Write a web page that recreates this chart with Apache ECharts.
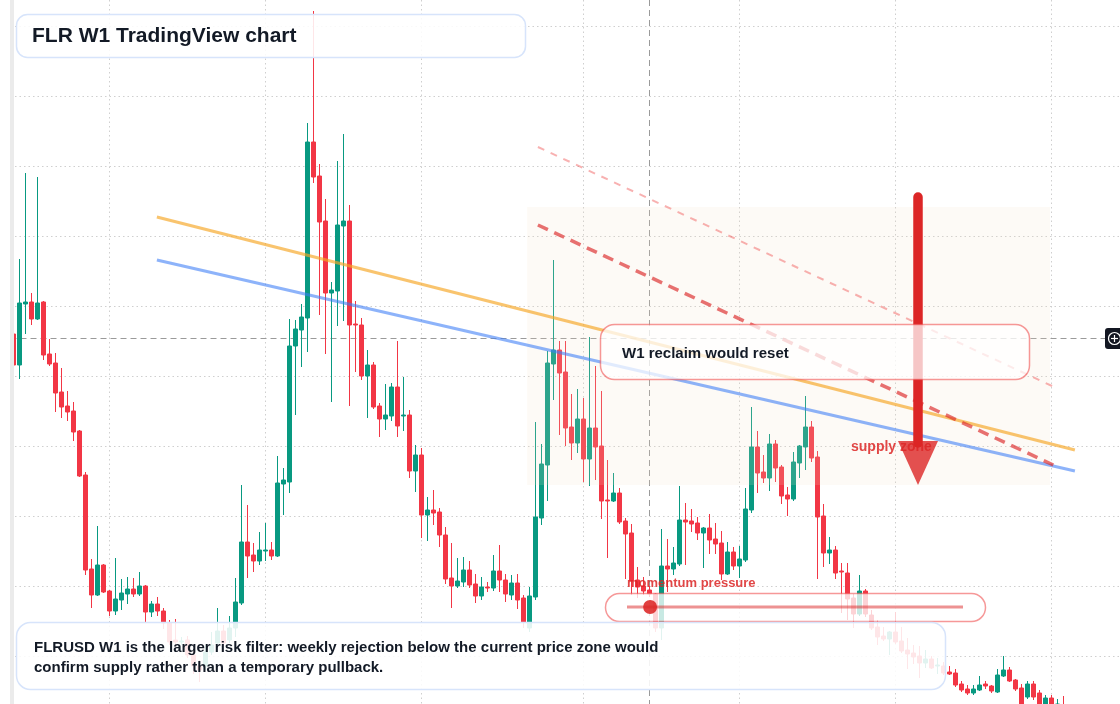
<!DOCTYPE html>
<html>
<head>
<meta charset="utf-8">
<title>FLR W1 TradingView chart</title>
<script src="https://cdn.jsdelivr.net/npm/echarts@6/dist/echarts.min.js"></script>
<style>
	html, body { margin: 0; padding: 0; background: #ffffff; }
	#chart { width: 1120px; height: 704px; }
</style>
</head>
<body>
<div id="chart"></div>
<script>
// FLRUSD weekly candles (price, USD)
const open = [
	0.0392,0.0361,0.0422,0.0424,0.0407,0.0424,0.0372,0.0363,0.0334,0.0320,0.0315,0.0295,0.0251,0.0157,0.0131,0.0161,
	0.0135,0.0115,0.0126,0.0132,0.0137,0.0132,0.0140,0.0114,0.0122,0.0115,0.0103,0.0086,0.0084,0.0086,0.0071,0.0060,
	0.0060,0.0074,0.0083,0.0095,0.0086,0.0098,0.0123,0.0184,0.0171,0.0165,0.0175,0.0176,0.0170,0.0242,0.0244,0.0380,
	0.0396,0.0408,0.0584,0.0550,0.0505,0.0433,0.0435,0.0500,0.0505,0.0402,0.0401,0.0350,0.0361,0.0320,0.0307,0.0310,
	0.0339,0.0310,0.0311,0.0255,0.0271,0.0211,0.0216,0.0214,0.0191,0.0148,0.0140,0.0144,0.0156,0.0142,0.0130,0.0139,
	0.0138,0.0155,0.0146,0.0131,0.0143,0.0128,0.0098,0.0129,0.0208,0.0261,0.0362,0.0376,0.0354,0.0299,0.0283,0.0307,
	0.0267,0.0298,0.0280,0.0226,0.0225,0.0233,0.0205,0.0193,0.0146,0.0140,0.0136,0.0132,0.0098,0.0160,0.0157,0.0162,
	0.0206,0.0205,0.0203,0.0193,0.0198,0.0187,0.0183,0.0152,0.0174,0.0160,0.0166,0.0216,0.0279,0.0254,0.0248,0.0282,
	0.0259,0.0231,0.0227,0.0263,0.0279,0.0299,0.0269,0.0210,0.0173,0.0176,0.0155,0.0153,0.0128,0.0112,0.0135,0.0111,
	0.0099,0.0090,0.0087,0.0094,0.0085,0.0076,0.0073,0.0070,0.0063,0.0067,0.0060,0.0060,0.0054,0.0053,0.0042,0.0037,
	0.0033,0.0036,0.0042,0.0040,0.0034,0.0050,0.0056,0.0046,0.0038,0.0029,0.0042,0.0033,0.0022,0.0028,0.0016,0.0020
];
const close = [
	0.0361,0.0423,0.0424,0.0407,0.0423,0.0371,0.0362,0.0333,0.0319,0.0314,0.0294,0.0250,0.0156,0.0131,0.0161,0.0134,
	0.0115,0.0127,0.0133,0.0137,0.0132,0.0140,0.0114,0.0122,0.0115,0.0103,0.0084,0.0084,0.0085,0.0071,0.0060,0.0056,
	0.0074,0.0081,0.0095,0.0083,0.0098,0.0124,0.0184,0.0170,0.0165,0.0176,0.0176,0.0170,0.0243,0.0246,0.0380,0.0397,
	0.0409,0.0584,0.0549,0.0504,0.0433,0.0436,0.0501,0.0505,0.0401,0.0401,0.0350,0.0361,0.0319,0.0307,0.0311,0.0339,
	0.0300,0.0311,0.0255,0.0271,0.0211,0.0216,0.0213,0.0191,0.0147,0.0140,0.0145,0.0156,0.0141,0.0130,0.0139,0.0138,
	0.0155,0.0146,0.0132,0.0143,0.0126,0.0104,0.0130,0.0209,0.0262,0.0363,0.0376,0.0353,0.0298,0.0283,0.0307,0.0267,
	0.0298,0.0279,0.0225,0.0225,0.0233,0.0204,0.0192,0.0145,0.0139,0.0135,0.0132,0.0098,0.0160,0.0157,0.0163,0.0206,
	0.0204,0.0202,0.0193,0.0198,0.0186,0.0182,0.0152,0.0174,0.0160,0.0167,0.0217,0.0279,0.0253,0.0248,0.0282,0.0258,
	0.0230,0.0227,0.0264,0.0280,0.0299,0.0268,0.0209,0.0173,0.0176,0.0153,0.0154,0.0127,0.0112,0.0135,0.0112,0.0098,
	0.0089,0.0087,0.0094,0.0084,0.0075,0.0072,0.0069,0.0063,0.0067,0.0058,0.0061,0.0053,0.0052,0.0041,0.0036,0.0033,
	0.0037,0.0041,0.0040,0.0035,0.0051,0.0056,0.0045,0.0037,0.0022,0.0042,0.0029,0.0022,0.0028,0.0022,0.0022,0.0014
];
const low = [
	0.0359,0.0347,0.0392,0.0401,0.0406,0.0366,0.0360,0.0314,0.0308,0.0305,0.0285,0.0249,0.0151,0.0118,0.0130,0.0133,
	0.0110,0.0111,0.0116,0.0122,0.0129,0.0130,0.0104,0.0109,0.0110,0.0097,0.0081,0.0078,0.0081,0.0068,0.0052,0.0044,
	0.0056,0.0071,0.0080,0.0079,0.0083,0.0089,0.0121,0.0148,0.0154,0.0161,0.0165,0.0166,0.0169,0.0211,0.0233,0.0311,
	0.0359,0.0374,0.0543,0.0411,0.0372,0.0324,0.0400,0.0405,0.0320,0.0354,0.0346,0.0308,0.0317,0.0289,0.0296,0.0305,
	0.0289,0.0295,0.0248,0.0234,0.0188,0.0185,0.0201,0.0179,0.0142,0.0118,0.0138,0.0139,0.0138,0.0123,0.0126,0.0134,
	0.0135,0.0134,0.0124,0.0126,0.0117,0.0098,0.0094,0.0126,0.0201,0.0225,0.0326,0.0291,0.0280,0.0266,0.0273,0.0244,
	0.0240,0.0246,0.0207,0.0168,0.0224,0.0202,0.0147,0.0131,0.0128,0.0131,0.0129,0.0094,0.0086,0.0134,0.0151,0.0160,
	0.0161,0.0194,0.0186,0.0158,0.0172,0.0172,0.0146,0.0151,0.0156,0.0148,0.0164,0.0213,0.0233,0.0243,0.0235,0.0244,
	0.0222,0.0210,0.0225,0.0248,0.0256,0.0264,0.0147,0.0159,0.0162,0.0147,0.0113,0.0106,0.0098,0.0110,0.0109,0.0096,
	0.0081,0.0085,0.0071,0.0082,0.0073,0.0057,0.0062,0.0048,0.0058,0.0057,0.0052,0.0051,0.0051,0.0039,0.0034,0.0031,
	0.0031,0.0035,0.0037,0.0033,0.0033,0.0049,0.0044,0.0035,0.0018,0.0027,0.0026,0.0016,0.0018,0.0016,0.0012,0.0010
];
const high = [
	0.0396,0.0467,0.0553,0.0433,0.0549,0.0425,0.0387,0.0373,0.0358,0.0335,0.0324,0.0296,0.0254,0.0167,0.0200,0.0162,
	0.0136,0.0168,0.0147,0.0149,0.0148,0.0154,0.0141,0.0125,0.0129,0.0118,0.0106,0.0107,0.0089,0.0090,0.0075,0.0066,
	0.0081,0.0094,0.0118,0.0101,0.0110,0.0148,0.0241,0.0221,0.0183,0.0194,0.0203,0.0184,0.0270,0.0258,0.0407,0.0406,
	0.0422,0.0603,0.0715,0.0562,0.0527,0.0444,0.0565,0.0592,0.0521,0.0425,0.0408,0.0376,0.0364,0.0323,0.0342,0.0343,
	0.0385,0.0349,0.0316,0.0281,0.0278,0.0229,0.0236,0.0218,0.0199,0.0183,0.0168,0.0169,0.0165,0.0152,0.0149,0.0144,
	0.0171,0.0181,0.0152,0.0151,0.0152,0.0131,0.0139,0.0304,0.0282,0.0375,0.0466,0.0385,0.0385,0.0332,0.0337,0.0328,
	0.0389,0.0360,0.0335,0.0266,0.0253,0.0238,0.0208,0.0202,0.0159,0.0149,0.0140,0.0133,0.0197,0.0187,0.0179,0.0240,
	0.0223,0.0217,0.0209,0.0199,0.0212,0.0203,0.0195,0.0184,0.0179,0.0180,0.0238,0.0319,0.0295,0.0271,0.0292,0.0286,
	0.0261,0.0239,0.0274,0.0281,0.0330,0.0305,0.0275,0.0222,0.0189,0.0180,0.0163,0.0163,0.0132,0.0151,0.0137,0.0116,
	0.0106,0.0099,0.0095,0.0114,0.0099,0.0088,0.0081,0.0080,0.0076,0.0070,0.0068,0.0064,0.0060,0.0057,0.0045,0.0041,
	0.0041,0.0050,0.0045,0.0041,0.0057,0.0070,0.0059,0.0047,0.0042,0.0045,0.0045,0.0036,0.0031,0.0031,0.0027,0.0030
];

// Week slots on the time axis (candles plus empty right margin)
const totalWeeks = 185;
const weeks = [];
for (let i = 0; i < totalWeeks; i++) {
	const d = new Date(Date.UTC(2022, 8, 12 + 7 * i));
	weeks.push(d.toISOString().slice(0, 10));
}
// Half-year separators (week index)
const gridWeeks = [16, 42, 68, 95, 121, 147, 173];

// Drawn annotations, in [week index, price]
const orangeTrend = [[23.9, 0.0509], [176.9, 0.0276]];
const blueTrend = [[23.9, 0.0466], [176.9, 0.0255]];
const upperChannel = [[87.4, 0.0579], [173.1, 0.0340]];
const supplyLine = [[87.4, 0.0501], [173.3, 0.0261]];
const supplyZone = { from: [85.6, 0.0519], to: [172.75, 0.0241] };
const arrowShaft = [[150.75, 0.0529], [150.75, 0.0283]];
const arrowHead = [[150.75, 0.0263]];
const crosshair = { week: 105.9, price: 0.0388 };
const momentumLine = [[102.25, 0.0119], [158.25, 0.0119]];
const momentumDot = [[106.1, 0.0119]];

const UP = '#089981';
const DOWN = '#f23645';
const RED = '#dc2626';
const FONT = '"Liberation Sans", Arial, Helvetica, sans-serif';
const INK = '#131a26';

const ohlc = open.map((o, i) => [o, close[i], low[i], high[i]]);

const chart = echarts.init(document.getElementById('chart'), null, { renderer: 'canvas' });

const noMark = { show: false };

const option = {
	animation: false,
	backgroundColor: '#ffffff',
	grid: {
		left: 10.5,
		top: -2,
		width: 1110,
		height: 728,
		outerBoundsMode: 'none'
	},
	xAxis: [
		{
			type: 'category',
			data: weeks,
			boundaryGap: true,
			show: false
		},
		{
			type: 'value',
			min: -0.5,
			max: totalWeeks - 0.5,
			show: false
		}
	],
	yAxis: {
		type: 'value',
		min: 0,
		max: 0.0728,
		interval: 0.007,
		scale: false,
		axisLine: noMark,
		axisTick: noMark,
		axisLabel: noMark,
		splitLine: {
			show: true,
			lineStyle: { color: '#cfcfcf', width: 1, type: [1.5, 3] }
		}
	},
	series: [
		{
			// vertical grid separators
			type: 'line',
			xAxisIndex: 1,
			data: [],
			z: 1,
			silent: true,
			markLine: {
				z: 1,
				silent: true,
				precision: 6,
				symbol: 'none',
				label: noMark,
				lineStyle: { color: '#cfcfcf', width: 1, type: [1.5, 3] },
				data: gridWeeks.map(w => ({ xAxis: w }))
			}
		},
		{
			// crosshair
			type: 'line',
			xAxisIndex: 1,
			data: [],
			z: 1,
			silent: true,
			markLine: {
				z: 1,
				silent: true,
				precision: 6,
				symbol: 'none',
				label: noMark,
				lineStyle: { color: '#9a9a9a', width: 1, type: [6, 4] },
				data: [{ xAxis: crosshair.week }, { yAxis: crosshair.price }]
			}
		},
		{
			name: 'FLRUSD',
			type: 'candlestick',
			data: ohlc,
			barWidth: 4,
			z: 2,
			itemStyle: {
				color: UP,
				color0: DOWN,
				borderColor: UP,
				borderColor0: DOWN,
				borderWidth: 1
			}
		},
		{
			// supply zone shading
			type: 'line',
			xAxisIndex: 1,
			data: [],
			z: 3,
			silent: true,
			markArea: {
				z: 3,
				silent: true,
				itemStyle: { color: 'rgba(245,222,200,0.16)', borderWidth: 0 },
				data: [[
					{ xAxis: supplyZone.from[0], yAxis: supplyZone.from[1] },
					{ xAxis: supplyZone.to[0], yAxis: supplyZone.to[1] }
				]]
			}
		},
		{
			type: 'line', xAxisIndex: 1, data: orangeTrend, z: 4, silent: true,
			symbol: 'none',
			lineStyle: { color: '#f6a623', width: 3, opacity: 0.66 }
		},
		{
			type: 'line', xAxisIndex: 1, data: blueTrend, z: 4, silent: true,
			symbol: 'none',
			lineStyle: { color: '#3b7cf6', width: 3, opacity: 0.58 }
		},
		{
			type: 'line', xAxisIndex: 1, data: upperChannel, z: 4, silent: true,
			symbol: 'none',
			lineStyle: { color: '#ef4444', width: 2, opacity: 0.42, type: [7, 7] }
		},
		{
			type: 'line', xAxisIndex: 1, data: supplyLine, z: 4, silent: true,
			symbol: 'none',
			lineStyle: { color: RED, width: 3.5, opacity: 0.65, type: [11, 7] }
		},
		{
			// bearish arrow
			type: 'line', xAxisIndex: 1, data: arrowShaft, z: 6, silent: true,
			symbol: 'none',
			lineStyle: { color: RED, width: 9.5, cap: 'round' }
		},
		{
			type: 'scatter', xAxisIndex: 1, data: arrowHead, z: 6, silent: true,
			symbol: 'triangle',
			symbolRotate: 180,
			symbolSize: [40, 44],
			itemStyle: { color: RED }
		},
		{
			// momentum marker inside the pill
			type: 'line', xAxisIndex: 1, data: momentumLine, z: 22, silent: true,
			symbol: 'none',
			lineStyle: { color: RED, width: 3, opacity: 0.5 }
		},
		{
			type: 'scatter', xAxisIndex: 1, data: momentumDot, z: 23, silent: true,
			symbol: 'circle',
			symbolSize: 14,
			itemStyle: { color: RED, opacity: 0.88 }
		}
	],
	graphic: {
		elements: [
			// left edge strip
			{ type: 'rect', z: 30, shape: { x: 10, y: 0, width: 4, height: 704 }, style: { fill: '#ebebeb' } },
			// title card
			{
				type: 'rect', z: 20,
				shape: { x: 16.5, y: 14.5, width: 509, height: 43, r: 11 },
				style: { fill: 'rgba(255,255,255,0.88)', stroke: '#d7e4fb', lineWidth: 1.5 }
			},
			{
				type: 'text', z: 21,
				style: { text: 'FLR W1 TradingView chart', x: 32, y: 36.5, font: `bold 21px ${FONT}`, fill: INK, verticalAlign: 'middle' }
			},
			// supply zone label (sits under the arrow)
			{
				type: 'text', z: 5,
				style: { text: 'supply zone', x: 851, y: 447.5, font: `bold 14px ${FONT}`, fill: 'rgba(220,38,38,0.85)', verticalAlign: 'middle' }
			},
			// W1 reclaim card
			{
				type: 'rect', z: 20,
				shape: { x: 600.5, y: 324.5, width: 429, height: 55, r: 14 },
				style: { fill: 'rgba(255,255,255,0.74)', stroke: 'rgba(239,68,68,0.55)', lineWidth: 1.5 }
			},
			{
				type: 'text', z: 21,
				style: { text: 'W1 reclaim would reset', x: 622, y: 354, font: `bold 15px ${FONT}`, fill: INK, verticalAlign: 'middle' }
			},
			// momentum pill
			{
				type: 'text', z: 21,
				style: { text: 'momentum pressure', x: 627, y: 583.5, font: `bold 13px ${FONT}`, fill: 'rgba(220,38,38,0.85)', verticalAlign: 'middle' }
			},
			{
				type: 'rect', z: 20,
				shape: { x: 605.5, y: 593.5, width: 380, height: 28, r: 14 },
				style: { fill: 'rgba(255,255,255,0.78)', stroke: 'rgba(239,68,68,0.55)', lineWidth: 1.5 }
			},
			// bottom note card
			{
				type: 'rect', z: 20,
				shape: { x: 16.5, y: 622.5, width: 929, height: 67, r: 14 },
				style: { fill: 'rgba(255,255,255,0.88)', stroke: '#d7e4fb', lineWidth: 1.5 }
			},
			{
				type: 'text', z: 21,
				style: { text: 'FLRUSD W1 is the larger risk filter: weekly rejection below the current price zone would', x: 34, y: 648, font: `bold 15px ${FONT}`, fill: INK, verticalAlign: 'middle' }
			},
			{
				type: 'text', z: 21,
				style: { text: 'confirm supply rather than a temporary pullback.', x: 34, y: 668, font: `bold 15px ${FONT}`, fill: INK, verticalAlign: 'middle' }
			},
			// crosshair "+" button on the right edge
			{
				type: 'rect', z: 30,
				shape: { x: 1105, y: 328, width: 18, height: 21, r: 3 },
				style: { fill: '#131722' }
			},
			{
				type: 'circle', z: 31,
				shape: { cx: 1114.5, cy: 338.5, r: 6 },
				style: { fill: 'none', stroke: '#ffffff', lineWidth: 1.2 }
			},
			{
				type: 'line', z: 31,
				shape: { x1: 1111, y1: 338.5, x2: 1118, y2: 338.5 },
				style: { stroke: '#ffffff', lineWidth: 1.2 }
			},
			{
				type: 'line', z: 31,
				shape: { x1: 1114.5, y1: 335, x2: 1114.5, y2: 342 },
				style: { stroke: '#ffffff', lineWidth: 1.2 }
			}
		]
	}
};

chart.setOption(option);
</script>
</body>
</html>
